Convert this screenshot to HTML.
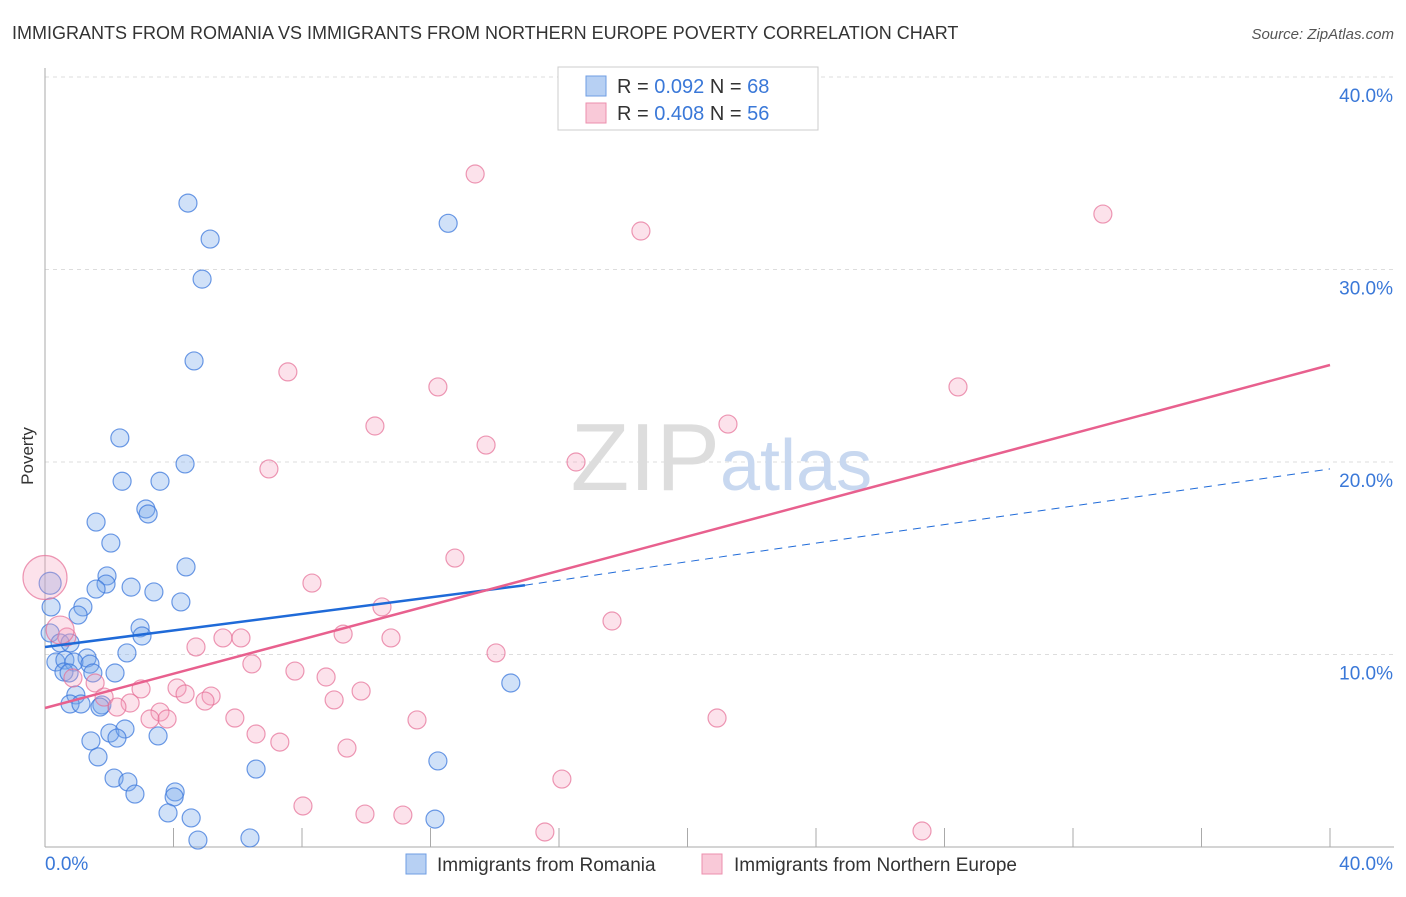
<!DOCTYPE html>
<html><head><meta charset="utf-8"><style>
body{margin:0;background:#fff;font-family:"Liberation Sans",sans-serif;}
svg text{font-family:"Liberation Sans",sans-serif;}
</style></head><body>
<svg width="1406" height="892" xmlns="http://www.w3.org/2000/svg">
<text x="12" y="39" font-size="18" fill="#333">IMMIGRANTS FROM ROMANIA VS IMMIGRANTS FROM NORTHERN EUROPE POVERTY CORRELATION CHART</text>
<text x="1394" y="39" font-size="15" fill="#555" font-style="italic" text-anchor="end">Source: ZipAtlas.com</text>
<text x="0" y="0" transform="translate(33,456) rotate(-90)" font-size="17" fill="#333" text-anchor="middle">Poverty</text>
<g id="grid"></g>
<text x="720" y="490" font-size="96" fill="#ddd" font-family="Liberation Serif" text-anchor="end">ZIP</text>
<text x="720" y="490" font-size="72" fill="#c8d8f0">atlas</text>
<g id="axes"></g>
<g id="pts"></g>
<g id="trends"></g>
<g>
<rect x="558" y="67" width="260" height="63" fill="#fff" stroke="#ccc"/>
<rect x="586" y="76" width="20" height="20" fill="#b7d0f3" stroke="#6f9ee3"/>
<rect x="586" y="103" width="20" height="20" fill="#f9c9d8" stroke="#ec8fae"/>
<text x="617" y="93" font-size="20" fill="#333">R = <tspan fill="#3a78d8">0.092</tspan>   N = <tspan fill="#3a78d8">68</tspan></text>
<text x="617" y="120" font-size="20" fill="#333">R = <tspan fill="#3a78d8">0.408</tspan>   N = <tspan fill="#3a78d8">56</tspan></text>
</g>
<g>
<rect x="406" y="854" width="20" height="20" fill="#b7d0f3" stroke="#6f9ee3"/>
<text x="437" y="871" font-size="19" fill="#333">Immigrants from Romania</text>
<rect x="702" y="854" width="20" height="20" fill="#f9c9d8" stroke="#ec8fae"/>
<text x="734" y="871" font-size="19" fill="#333">Immigrants from Northern Europe</text>
</g>
</svg>
<script>
const blueX=[4.45,5.14,4.89,12.55,4.64,2.33,4.36,2.4,3.58,3.14,3.21,1.59,2.05,4.39,1.93,1.9,2.68,1.59,3.39,4.23,0.19,1.18,1.03,2.96,3.02,0.16,0.47,0.78,2.55,0.34,0.62,1.31,0.9,1.4,0.59,0.75,2.18,1.49,0.96,0.78,1.12,1.77,1.71,14.5,2.02,2.49,2.24,3.52,1.43,1.65,12.23,6.57,2.15,2.58,2.8,4.05,4.02,3.83,4.55,12.14,4.76,6.38,0.16];
const blueY=[33.45,31.58,29.5,32.4,25.25,21.25,19.9,19.0,19.0,17.56,17.3,16.88,15.79,14.55,14.08,13.66,13.5,13.4,13.25,12.73,12.47,12.47,12.05,11.38,10.96,11.12,10.6,10.6,10.08,9.61,9.71,9.82,9.61,9.5,9.09,9.04,9.04,9.04,7.9,7.43,7.43,7.38,7.27,8.52,5.92,6.13,5.66,5.77,5.51,4.68,4.47,4.05,3.58,3.38,2.75,2.86,2.6,1.77,1.51,1.45,0.36,0.47,13.7];
const pinkX=[13.39,18.55,32.93,7.56,12.23,28.42,10.27,21.26,13.73,16.53,6.97,12.76,8.31,10.49,17.65,9.28,10.77,5.54,6.1,0.68,4.7,14.04,6.44,7.78,8.75,0.87,1.56,9.84,2.99,4.11,4.36,5.17,1.84,9.0,4.98,2.65,2.24,3.58,3.27,3.8,5.91,11.58,20.92,6.57,7.31,9.4,16.09,8.03,9.96,11.14,15.56,27.3,0,0.47];
const pinkY=[34.96,32.0,32.88,24.68,23.9,23.9,21.87,21.97,20.88,20.0,19.64,15.01,13.71,12.47,11.74,11.06,10.86,10.86,10.86,10.91,10.39,10.08,9.51,9.14,8.83,8.78,8.52,8.1,8.21,8.26,7.95,7.84,7.79,7.64,7.58,7.48,7.27,7.01,6.65,6.65,6.7,6.6,6.7,5.87,5.45,5.14,3.53,2.13,1.71,1.66,0.78,0.83,14.0,11.27];
const pinkBig=[52,53];
const blueTrendX=[0,14.94,40];
const blueTrendY=[10.39,13.6,19.64];
const pinkTrendX=[0,40];
const pinkTrendY=[7.22,25.04];
const yTicks=[10,20,30,40];
const xTickVals=[4,8,12,16,20,24,28,32,36,40];
const NS="http://www.w3.org/2000/svg";
const sx=v=>45+v/40*1285;
const sy=v=>847-v*19.25;
function mk(tag,parent,attrs){const e=document.createElementNS(NS,tag);for(const k in attrs)e.setAttribute(k,attrs[k]);parent.appendChild(e);return e;}
const grid=document.getElementById('grid'),axes=document.getElementById('axes'),pts=document.getElementById('pts'),tr=document.getElementById('trends');
yTicks.forEach(t=>{
 const l=mk('line',grid,{x1:45,x2:1394,y1:sy(t),y2:sy(t),stroke:'#ddd','stroke-dasharray':'4,4'});
 
 
 const tx=mk('text',axes,{x:1393,y:sy(t)+25,'font-size':19,fill:'#3a78d8','text-anchor':'end'});
 tx.textContent=t.toFixed(1)+'%';
 
 
});
const la=mk('line',axes,{x1:45,x2:45,y1:68,y2:847,stroke:'#aaa'});


const lb=mk('line',axes,{x1:45,x2:1394,y1:847,y2:847,stroke:'#aaa'});


xTickVals.forEach(t=>{
 const l=mk('line',axes,{x1:sx(t),x2:sx(t),y1:828,y2:847,stroke:'#aaa'});
 
 
});
const x0=mk('text',axes,{x:45,y:870,'font-size':19,fill:'#3a78d8'});x0.textContent='0.0%';


const x1=mk('text',axes,{x:1393,y:870,'font-size':19,fill:'#3a78d8','text-anchor':'end'});x1.textContent='40.0%';


blueX.forEach((v,i)=>{
 const c=mk('circle',pts,{cx:sx(v),cy:sy(blueY[i]),r:i==blueX.length-1?11:9,fill:'rgba(120,170,235,0.35)',stroke:'rgba(60,120,220,0.75)','stroke-width':1.2});
 
 
});
pinkX.forEach((v,i)=>{
 const r=i==52?22:(i==53?14:9);
 const c=mk('circle',pts,{cx:sx(v),cy:sy(pinkY[i]),r:r,fill:'rgba(245,160,190,0.3)',stroke:'rgba(230,110,150,0.7)','stroke-width':1.2});
 
 
});
const bs=mk('line',tr,{x1:sx(blueTrendX[0]),y1:sy(blueTrendY[0]),x2:sx(blueTrendX[1]),y2:sy(blueTrendY[1]),stroke:'#1f6ad8','stroke-width':2.5});


const bd=mk('line',tr,{x1:sx(blueTrendX[1]),y1:sy(blueTrendY[1]),x2:sx(blueTrendX[2]),y2:sy(blueTrendY[2]),stroke:'#1f6ad8','stroke-width':1,'stroke-dasharray':'8,6'});


const ps=mk('line',tr,{x1:sx(pinkTrendX[0]),y1:sy(pinkTrendY[0]),x2:sx(pinkTrendX[1]),y2:sy(pinkTrendY[1]),stroke:'#e8608e','stroke-width':2.5});


</script>
</body></html>
